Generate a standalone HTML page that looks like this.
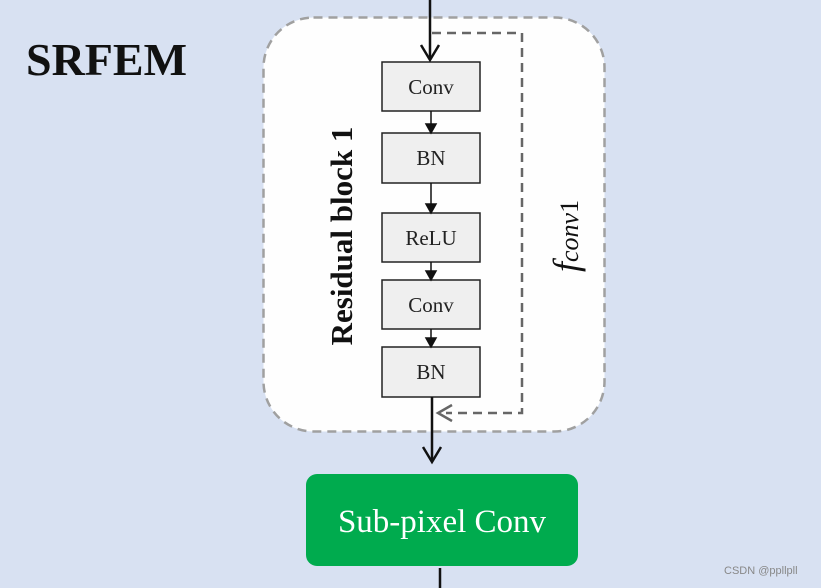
<!DOCTYPE html>
<html><head><meta charset="utf-8"><style>
html,body{margin:0;padding:0;background:#d8e1f2;}
svg{display:block;}
</style></head><body>
<svg width="821" height="588" viewBox="0 0 821 588" xmlns="http://www.w3.org/2000/svg">
<rect width="821" height="588" fill="#d8e1f2"/>
<text x="26" y="75" font-family="Liberation Serif, serif" font-weight="bold" font-size="46" fill="#111">SRFEM</text>
<rect x="263.5" y="17.5" width="341" height="414" rx="50" fill="#fefefe" stroke="#a0a0a0" stroke-width="2.5" stroke-dasharray="9,6"/>
<g fill="#efefef" stroke="#222" stroke-width="1.5">
<rect x="382" y="62" width="98" height="49"/>
<rect x="382" y="133" width="98" height="50"/>
<rect x="382" y="213" width="98" height="49"/>
<rect x="382" y="280" width="98" height="49"/>
<rect x="382" y="347" width="98" height="50"/>
</g>
<g font-family="Liberation Serif, serif" font-size="21" fill="#222" text-anchor="middle">
<text x="431" y="94">Conv</text>
<text x="431" y="165">BN</text>
<text x="431" y="245">ReLU</text>
<text x="431" y="312">Conv</text>
<text x="431" y="379">BN</text>
</g>
<g stroke="#111" stroke-width="2.5" fill="none">
<line x1="430" y1="0" x2="430" y2="60"/>
<polyline points="421,45 430,60 439,45"/>
<line x1="432" y1="397" x2="432" y2="462"/>
<polyline points="423,447 432,462 441,447"/>
<line x1="440" y1="568" x2="440" y2="588"/>
</g>
<g stroke="#111" stroke-width="1.5" fill="#111">
<line x1="431" y1="111" x2="431" y2="125"/><polygon points="426,124 436,124 431,133"/>
<line x1="431" y1="183" x2="431" y2="205"/><polygon points="426,204 436,204 431,213"/>
<line x1="431" y1="262" x2="431" y2="272"/><polygon points="426,271 436,271 431,280"/>
<line x1="431" y1="329" x2="431" y2="339"/><polygon points="426,338 436,338 431,347"/>
</g>
<polyline points="432,33 522,33 522,413 446,413" fill="none" stroke="#666" stroke-width="2.5" stroke-dasharray="9,6"/>
<polyline points="452,405 438,413 452,421" fill="none" stroke="#666" stroke-width="2.5"/>
<text transform="translate(352,236) rotate(-90)" text-anchor="middle" font-family="Liberation Serif, serif" font-weight="bold" font-size="31" fill="#111">Residual block 1</text>
<text transform="translate(578,272) rotate(-90)" font-family="Liberation Serif, serif" font-size="26" fill="#111"><tspan font-style="italic" font-size="36">f</tspan><tspan font-style="italic" dy="0">conv</tspan><tspan>1</tspan></text>
<rect x="306" y="474" width="272" height="92" rx="11" fill="#00ab4e"/>
<text x="442" y="532" text-anchor="middle" font-family="Liberation Serif, serif" font-size="33" fill="#fff">Sub-pixel Conv</text>
<text x="724" y="574" font-family="Liberation Sans, sans-serif" font-size="11" fill="#888">CSDN @ppllpll</text>
</svg>
</body></html>
